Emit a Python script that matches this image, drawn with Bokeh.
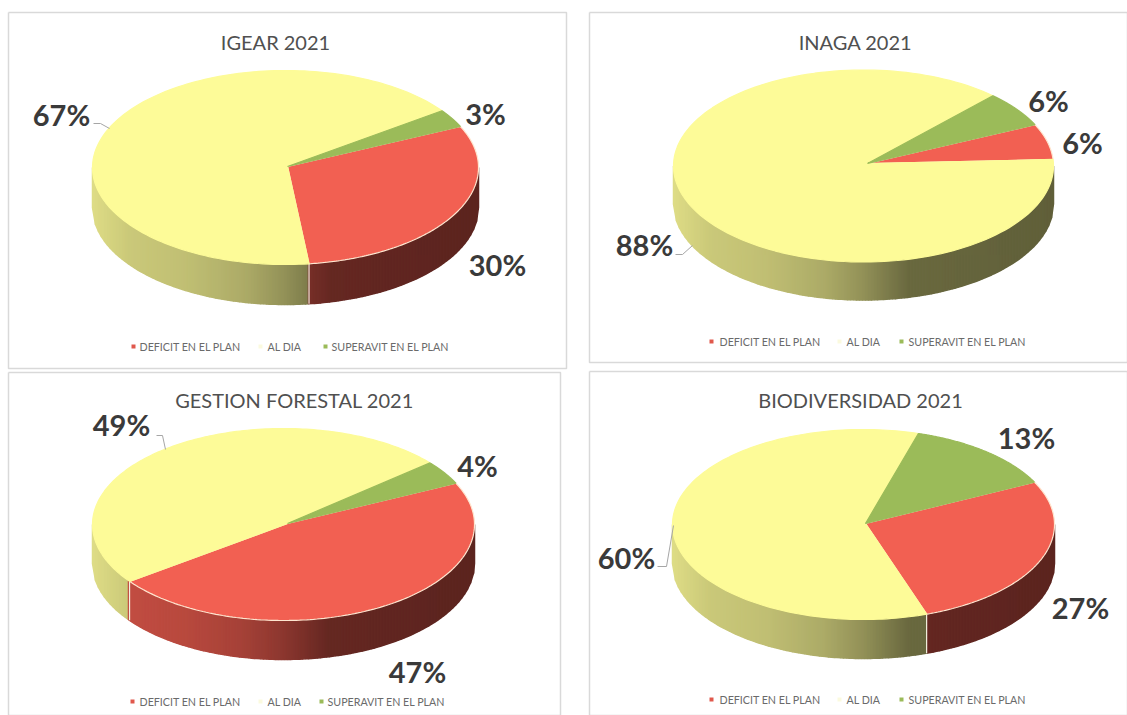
import numpy as np
from bokeh.core.properties import value
from bokeh.embed import file_html
from bokeh.models import Range1d
from bokeh.plotting import figure
from bokeh.resources import INLINE

# ---- data ----
categories = ["DEFICIT EN EL PLAN", "AL DIA", "SUPERAVIT EN EL PLAN"]
titles = ["IGEAR 2021", "INAGA 2021", "GESTION FORESTAL 2021", "BIODIVERSIDAD 2021"]
igear = [30, 67, 3]
inaga = [6, 88, 6]
forestal = [47, 49, 4]
biodiversidad = [27, 60, 13]
series = [igear, inaga, forestal, biodiversidad]

# ---- styles / layout (page pixels) ----
top_colors = ["#F26052", "#FDFB98", "#9BBB59"]
wall_rgb = [(242, 96, 82), (253, 251, 152), (155, 187, 89)]
legend_colors = ["#E0584C", "#FBFADF", "#9BBB59"]
centers = [(285, 167), (863, 165.5), (283, 524), (863, 524)]
apex_offset = [(2, -1), (4, -2.5), (4, -1), (2, -1)]
rx_list = [193, 190, 191, 191]
ry_list = [97, 96, 96, 95]
depth_list = [40, 38, 39, 39]
start_list = [25.0, 25.5, 25.5, 26.5]
title_pos = [(275, 41), (855, 41), (294, 399), (860, 399)]
label_pos = [
    [(497, 264), (61, 114), (485, 113)],
    [(1082, 142), (644, 244), (1048, 100)],
    [(417, 671), (121, 424), (477, 465)],
    [(1080, 607), (626, 557), (1026, 437)],
]
leaders = [
    ([93, 100, 109], [123, 123, 128]),
    ([675, 682, 692], [254, 254, 245]),
    ([156, 162, 165], [435, 435, 449]),
    ([657, 666, 673], [566, 566, 525]),
]
panels = [
    ([8, 566, 566, 8, 8], [12, 12, 368, 368, 12]),
    ([589, 1127, 1127, 589, 589], [12, 12, 362, 362, 12]),
    ([8, 560, 560, 8, 8], [372, 372, 715, 715, 372]),
    ([589, 1127, 1127, 589, 589], [371, 371, 715, 715, 371]),
]
legend_y = [346, 341, 701, 699]
legend_marker_x = [(133, 260, 325), (711, 839, 901), (132, 260, 321), (711, 839, 901)]
legend_text_x = [(139, 267, 331), (719, 846, 908), (139, 267, 327), (719, 846, 908)]

shade_f = [0.0, 0.1, 0.25, 0.4, 0.5, 0.62, 1.0]
shade_v = [0.88, 0.80, 0.76, 0.68, 0.58, 0.42, 0.38]

p = figure(
    width=1127, height=715, output_backend="svg", toolbar_location=None,
    x_range=Range1d(0, 1127), y_range=Range1d(715, 0),
    x_axis_location=None, y_axis_location=None, min_border=0,
    background_fill_color="white", border_fill_color="white", outline_line_color=None,
)
p.grid.visible = False

for xs, ys in panels:
    p.line(xs, ys, line_color="#D9D9D9", line_width=1.5)

for k, vals in enumerate(series):
    cx, cy = centers[k]
    ax, ay = cx + apex_offset[k][0], cy + apex_offset[k][1]
    rx, ry, depth = rx_list[k], ry_list[k], depth_list[k]
    start_deg = start_list[k]
    sweep = np.cumsum([0] + [v * 3.6 for v in vals])

    # side wall: narrow strips whose shade follows the position across the pie
    sx, sy, sc = [], [], []
    edges = np.arange(-rx, rx, 3.0)
    for x0 in edges:
        x1 = min(x0 + 3.0, rx)
        xm = (x0 + x1) / 2
        t = -np.degrees(np.arccos(xm / rx))
        pos = (start_deg - t) % 360
        idx = int(np.searchsorted(sweep, pos, side="right") - 1)
        idx = min(idx, len(vals) - 1)
        f = (xm + rx) / (2 * rx)
        s = np.interp(f, shade_f, shade_v)
        r, g, b = wall_rgb[idx]
        col = "#%02x%02x%02x" % (int(r * s), int(g * s), int(b * s))
        y0 = cy + ry * np.sqrt(max(0.0, 1 - (x0 / rx) ** 2))
        y1 = cy + ry * np.sqrt(max(0.0, 1 - (x1 / rx) ** 2))
        sx.append([cx + x0, cx + x1, cx + x1, cx + x0])
        sy.append([y0, y1, y1 + depth, y0 + depth])
        sc.append(col)
    p.patches(sx, sy, fill_color=sc, line_color=sc, line_width=1.5)

    # boundary between slices on the wall
    for a in sweep[:-1]:
        t = np.radians(start_deg - a)
        if np.sin(t) < 0:
            px = cx + rx * np.cos(t)
            py = cy - ry * np.sin(t)
            p.line([px, px], [py, py + depth], line_color="#F4F1E0", line_width=1.2)

    # top face
    for i, v in enumerate(vals):
        ang = np.radians(start_deg - np.linspace(sweep[i], sweep[i + 1], 160))
        xs = [ax] + list(cx + rx * np.cos(ang))
        ys = [ay] + list(cy - ry * np.sin(ang))
        line_col = "#FFE6D0" if i == 0 else top_colors[i]
        p.patch(xs, ys, fill_color=top_colors[i], line_color=line_col, line_width=1.2)

    # leader line
    lx, ly = leaders[k]
    p.line(lx, ly, line_color="#A6A6A6", line_width=1)

    # title
    tx, ty = title_pos[k]
    p.text([tx], [ty], text=[titles[k]], text_font=value("Lato"), text_font_size="20px",
           text_color="#505050", text_align="center", text_baseline="middle")

    # percent labels
    for (lxx, lyy), v in zip(label_pos[k], vals):
        p.text([lxx], [lyy], text=[f"{v}%"], text_font=value("Lato"), text_font_size="29px",
               text_font_style="bold", text_color="#3A3A3A",
               text_align="center", text_baseline="middle")

    # legend
    for j, c in enumerate(categories):
        p.scatter([legend_marker_x[k][j]], [legend_y[k]], marker="square", size=4,
                  fill_color=legend_colors[j], line_color=None)
        p.text([legend_text_x[k][j]], [legend_y[k]], text=[c], text_font=value("Lato"),
               text_font_size="10.7px", text_color="#6A6A6A",
               text_align="left", text_baseline="middle")

open("out.html", "w").write(file_html(p, INLINE))
